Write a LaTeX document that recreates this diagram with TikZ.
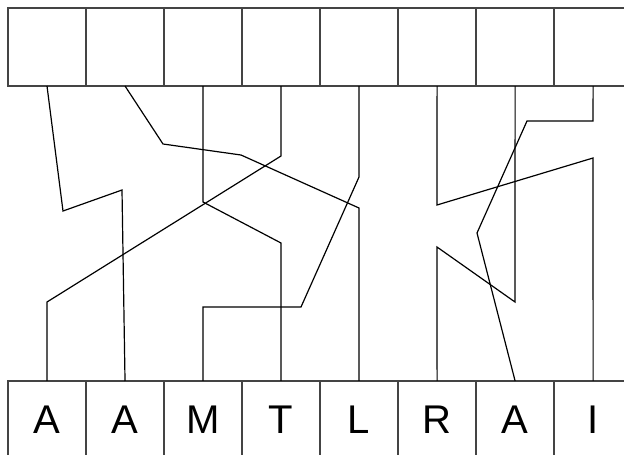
\documentclass[tikz,border=0pt]{standalone}
\usepackage{fontspec}
\setmainfont{Liberation Sans}
\usetikzlibrary{positioning}
\definecolor{ink}{HTML}{000000}
\definecolor{frame}{HTML}{444444}
\tikzset{
  cell/.style={
    draw=frame,
    line width=1.1pt,
    minimum width=1.95cm,
    minimum height=1.95cm,
    inner sep=0pt,
    outer sep=0pt,
    font=\fontsize{28.5}{32}\selectfont
  },
  wire/.style={
    draw=ink,
    line width=0.85pt,
    line join=miter
  }
}
\begin{document}
\begin{tikzpicture}[x=0.025cm,y=-0.025cm]
  \useasboundingbox (0,0) rectangle (624,454);

  % Upper row of empty cells.
  \node[cell] (t1) at (47,47) {};
  \node[cell,right=0pt of t1] (t2) {};
  \node[cell,right=0pt of t2] (t3) {};
  \node[cell,right=0pt of t3] (t4) {};
  \node[cell,right=0pt of t4] (t5) {};
  \node[cell,right=0pt of t5] (t6) {};
  \node[cell,right=0pt of t6] (t7) {};
  \node[cell,right=0pt of t7] (t8) {};

  % Lower row of lettered cells.
  \node[cell] (b1) at (47,420) {A};
  \node[cell,right=0pt of b1] (b2) {A};
  \node[cell,right=0pt of b2] (b3) {M};
  \node[cell,right=0pt of b3] (b4) {T};
  \node[cell,right=0pt of b4] (b5) {L};
  \node[cell,right=0pt of b5] (b6) {R};
  \node[cell,right=0pt of b6] (b7) {A};
  \node[cell,right=0pt of b7] (b8) {I};

  % Wires from the upper cells to the lower cells.
  \draw[wire] (t1.south) -- (63,211) -- (122,190) -- (b2.north);
  \draw[wire] (t2.south) -- (163,144) -- (241,155) -- (359,208) -- (b5.north);
  \draw[wire] (t3.south) -- (203,202) -- (281,243) -- (b4.north);
  \draw[wire] (t4.south) -- (281,156) -- (47,302) -- (b1.north);
  \draw[wire] (t5.south) -- (359,177) -- (301,307) -- (203,307) -- (b3.north);
  \draw[wire] (t6.south) -- (437,205) -- (593,158) -- (b8.north);
  \draw[wire] (t7.south) -- (515,302) -- (437,247) -- (b6.north);
  \draw[wire] (t8.south) -- (593,121) -- (527,121) -- (477,233) -- (b7.north);

\end{tikzpicture}
\end{document}
